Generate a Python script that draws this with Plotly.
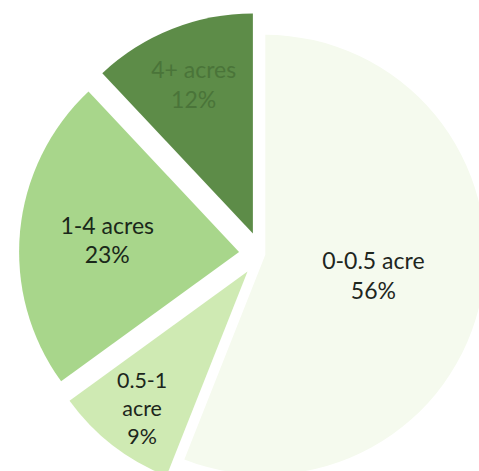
import plotly.graph_objects as go

labels = ["0-0.5 acre", "0.5-1 acre", "1-4 acres", "4+ acres"]
label_text = ["0-0.5 acre", "0.5-1<br>acre", "1-4 acres", "4+ acres"]
values = [56, 9, 23, 12]
colors = ["#f5faee", "#cfeab3", "#a8d68b", "#5d8c48"]
text_colors = ["#1e261e", "#1c261c", "#1a281a", "#4a7439"]
pulls = [0.02, 0.1, 0.1, 0.1]

fig = go.Figure(go.Pie(
    labels=labels,
    values=values,
    text=label_text,
    texttemplate="%{text}<br>%{percent:.0%}",
    textposition="inside",
    insidetextorientation="horizontal",
    textfont=dict(family="Lato, Open Sans, sans-serif", size=23, color=text_colors),
    marker=dict(colors=colors, line=dict(width=0)),
    pull=pulls,
    sort=False,
    direction="clockwise",
    rotation=0,
    showlegend=False,
    hoverinfo="skip",
))

fig.update_layout(
    width=503, height=496,
    margin=dict(l=19, r=0, t=12, b=0),
    paper_bgcolor="white",
    plot_bgcolor="white",
)

fig.write_html("out.html", post_script="document.documentElement.style.overflow='hidden';document.body.style.overflow='hidden';document.body.style.margin='0';")
